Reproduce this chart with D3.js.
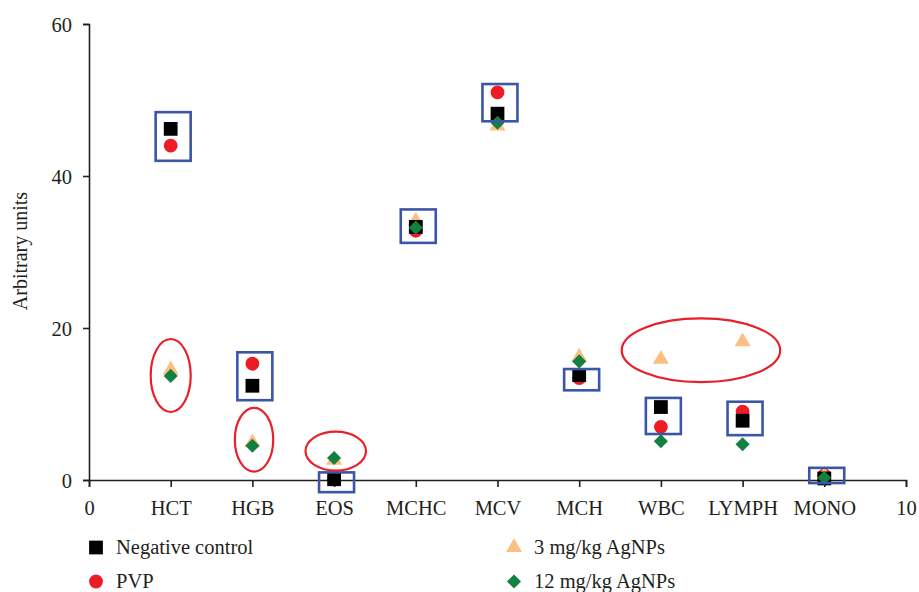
<!DOCTYPE html>
<html lang="en">
<head>
  <meta charset="UTF-8">
  <title>Arbitrary units</title>
  <script src="https://d3js.org/d3.v7.min.js"></script>
  <style>
    body { margin: 0; background: #fff; }
    text { font-family: "Liberation Serif", "DejaVu Serif", serif; fill: #231f20; }
  </style>
</head>
<body>
  <script>
    // categories sit at x = 1..9, the axis runs 0..10
    const categories = ["HCT", "HGB", "EOS", "MCHC", "MCV", "MCH", "WBC", "LYMPH", "MONO"];
    const negControl = [46.2, 12.4, 0.1, 33.3, 48.2, 13.8, 9.6, 7.8, 0.2];
    const pvp        = [44.0, 15.3, 0.1, 32.8, 51.0, 13.4, 7.0, 9.0, 0.6];
    const agnp3      = [14.5, 4.9, 2.6, 34.1, 46.6, 16.2, 15.9, 18.2, 0.6];
    const agnp12     = [13.7, 4.5, 2.9, 33.2, 47.0, 15.6, 5.1, 4.7, 0.3];
    const yTicks = [0, 20, 40, 60];

    // annotations: [category index, y top, y bottom]
    const boxes = [[1, 48.4, 42.0], [2, 16.8, 10.5], [3, 1.0, -1.6], [4, 35.6, 31.2], [5, 52.1, 47.2],
                   [6, 14.6, 11.8], [7, 10.8, 6.05], [8, 10.3, 5.9], [9, 1.6, -0.4]];
    // [x centre, y centre, x radius, y radius]
    const ellipses = [[1.0, 13.75, 0.245, 4.8], [2.02, 5.3, 0.235, 4.2], [3.02, 3.8, 0.37, 2.57], [7.49, 17.07, 0.97, 4.2]];

    const width = 919, height = 592;
    const svg = d3.select("body").append("svg")
      .attr("width", width)
      .attr("height", height);

    const x = d3.scaleLinear().domain([0, 10]).range([89, 906]);
    const y = d3.scaleLinear().domain([0, 60]).range([480, 24]);

    // y axis
    const yAxis = svg.append("g")
      .attr("transform", `translate(${x(0)},0)`)
      .call(d3.axisLeft(y).tickValues(yTicks).tickSize(6).tickPadding(11));

    // x axis, numbers at the ends and names in between
    const xAxis = svg.append("g")
      .attr("transform", `translate(0,${y(0)})`)
      .call(d3.axisBottom(x).tickValues(d3.range(0, 11)).tickSize(7).tickPadding(13)
        .tickFormat(d => (d >= 1 && d <= 9) ? categories[d - 1] : d));

    [yAxis, xAxis].forEach(g => {
      g.select(".domain").attr("stroke", "#231f20").attr("stroke-width", 1.6);
      g.selectAll(".tick line").attr("stroke", "#231f20").attr("stroke-width", 1.6);
      g.selectAll(".tick text").style("font-size", "20.5px").attr("fill", "#231f20");
    });
    yAxis.selectAll(".tick text").attr("dy", "0.36em");

    svg.append("text")
      .attr("transform", `translate(27,251) rotate(-90)`)
      .attr("text-anchor", "middle")
      .style("font-size", "20px")
      .text("Arbitrary units");

    const diamond = {
      draw(ctx, size) {
        const r = Math.sqrt(size / 2);
        ctx.moveTo(0, -r); ctx.lineTo(r, 0); ctx.lineTo(0, r); ctx.lineTo(-r, 0); ctx.closePath();
      }
    };

    const series = [
      { name: "PVP", values: pvp, shape: d3.symbolCircle, size: 150, color: "#ed1c24" },
      { name: "3 mg/kg AgNPs", values: agnp3, shape: d3.symbolTriangle, size: 110, color: "#fbbf83" },
      { name: "Negative control", values: negControl, shape: d3.symbolSquare, size: 190, color: "#000000" },
      { name: "12 mg/kg AgNPs", values: agnp12, shape: diamond, size: 100, color: "#12803f" }
    ];

    series.forEach(s => {
      svg.append("g").selectAll("path")
        .data(s.values)
        .join("path")
        .attr("transform", (d, i) => `translate(${x(i + 1)},${y(d)})`)
        .attr("d", d3.symbol().type(s.shape).size(s.size))
        .attr("fill", s.color);
    });

    // blue boxes
    svg.append("g").selectAll("rect")
      .data(boxes)
      .join("rect")
      .attr("x", d => x(d[0] + 0.03) - 17.5)
      .attr("y", d => y(d[1]))
      .attr("width", 35)
      .attr("height", d => y(d[2]) - y(d[1]))
      .attr("fill", "none")
      .attr("stroke", "#3b56a6")
      .attr("stroke-width", 2.6);

    // red ellipses
    svg.append("g").selectAll("ellipse")
      .data(ellipses)
      .join("ellipse")
      .attr("cx", d => x(d[0]))
      .attr("cy", d => y(d[1]))
      .attr("rx", d => x(d[2]) - x(0))
      .attr("ry", d => y(0) - y(d[3]))
      .attr("fill", "none")
      .attr("stroke", "#e8202a")
      .attr("stroke-width", 2.2);

    // legend, two columns
    const legendOrder = ["Negative control", "PVP", "3 mg/kg AgNPs", "12 mg/kg AgNPs"];
    const legend = svg.append("g").selectAll("g")
      .data(legendOrder.map(n => series.find(s => s.name === n)))
      .join("g")
      .attr("transform", (d, i) => `translate(${i < 2 ? 96 : 514},${i % 2 === 0 ? 547.5 : 581.5})`);

    legend.append("path")
      .attr("d", d => d3.symbol().type(d.shape).size(d.size)())
      .attr("fill", d => d.color);

    legend.append("text")
      .attr("x", 20)
      .attr("dy", "0.34em")
      .style("font-size", "20.5px")
      .text(d => d.name);
  </script>
</body>
</html>
